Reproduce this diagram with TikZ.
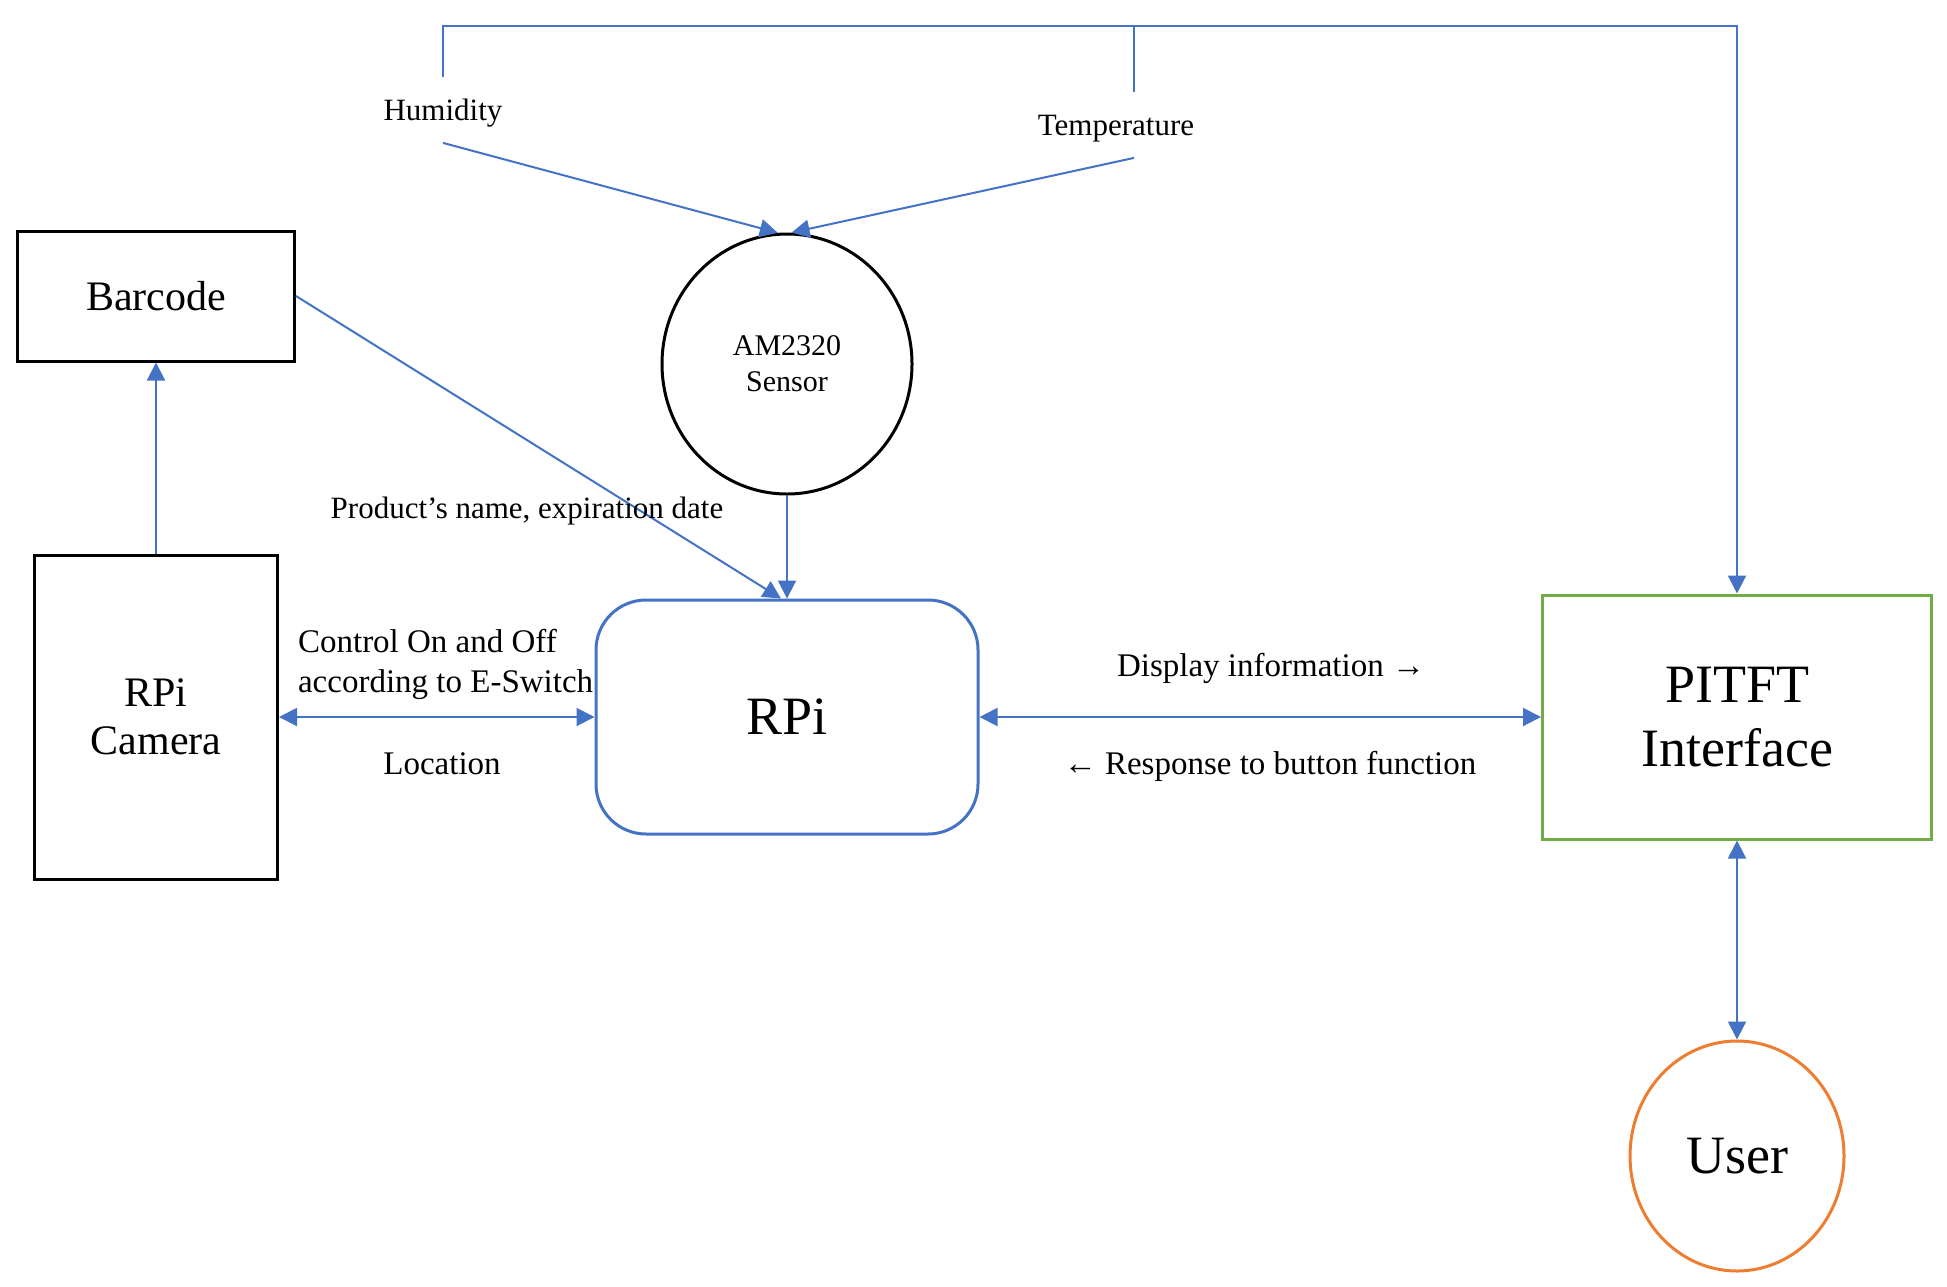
\documentclass[tikz,border=0pt]{standalone}
\usepackage{fontspec}
\setmainfont{Liberation Serif}
\usetikzlibrary{arrows.meta,shapes.geometric}
\definecolor{lineblue}{HTML}{4472C4}
\definecolor{boxgreen}{HTML}{70AD47}
\definecolor{userorange}{HTML}{ED7D31}
\tikzset{
  blk/.style={draw,line width=1.5pt,inner sep=0pt,align=center},
  flow/.style={lineblue,line width=1pt},
  arr/.style={flow,-{Triangle[length=9pt,width=9pt]}},
  darr/.style={flow,{Triangle[length=9pt,width=9pt]}-{Triangle[length=9pt,width=9pt]}},
  lbl/.style={font=\fontsize{16.5}{20}\selectfont},
  src/.style={font=\fontsize{15.5}{18}\selectfont,minimum height=32.5pt,inner sep=0pt,text depth=0pt}
}
\begin{document}
\begin{tikzpicture}[x=0.5pt,y=-0.5pt]
\useasboundingbox (0,0) rectangle (1947,1286);
% blocks
\node[blk,minimum width=138.5pt,minimum height=65pt,font=\fontsize{21}{24}\selectfont] (barcode) at (156,296) {Barcode};
\node[blk,minimum width=121.5pt,minimum height=162pt,font=\fontsize{21}{24}\selectfont] (cam) at (156,717) {RPi\\Camera};
\node[blk,ellipse,minimum width=125pt,minimum height=130pt,font=\fontsize{15}{18}\selectfont] (sensor) at (787,364) {AM2320\\Sensor};
\node[blk,draw=lineblue,rounded corners=25pt,minimum width=191pt,minimum height=117pt,font=\fontsize{27}{32}\selectfont] (rpi) at (787,717) {RPi};
\node[blk,draw=boxgreen,minimum width=194.5pt,minimum height=122pt,font=\fontsize{27}{32}\selectfont] (pitft) at (1737,717) {PITFT\\Interface};
\node[blk,draw=userorange,ellipse,minimum width=107pt,minimum height=115pt,font=\fontsize{27}{32}\selectfont] (user) at (1737,1156) {User};
% readings
\node[src] (hum) at (443,110) {Humidity};
\node[src] (temp) at (1116,125) {Temperature};
\coordinate (topright) at (1737,26);
% connectors
\draw[arr] (hum.north) |- (topright) -- (pitft.north);
\draw[flow] ([xshift=9pt]temp.north) |- (topright);
\draw[arr] (hum.south) -- (sensor.94);
\draw[arr] ([xshift=9pt]temp.south) -- (sensor.88);
\draw[arr] (cam.north) -- (barcode.south);
\draw[arr] (barcode.east) -- ([xshift=-3pt]rpi.north);
\draw[arr] (sensor.south) -- (rpi.north);
\draw[darr] (cam.east) -- (rpi.west);
\draw[darr] (rpi.east) -- (pitft.west);
\draw[darr] (pitft.south) -- (user.north);
% labels
\node[lbl,font=\fontsize{15.5}{18}\selectfont] (prodlbl) at (527,511) {Product’s name, expiration date};
\node[lbl,anchor=west,align=left] (ctrllbl) at (291,664) {Control On and Off\\according to E-Switch};
\node[lbl] (loclbl) at (442,764) {Location};
\node[lbl] (displbl) at (1271,668) {Display information →};
\node[lbl] (resplbl) at (1270,766) {← Response to button function};
\end{tikzpicture}
\end{document}
